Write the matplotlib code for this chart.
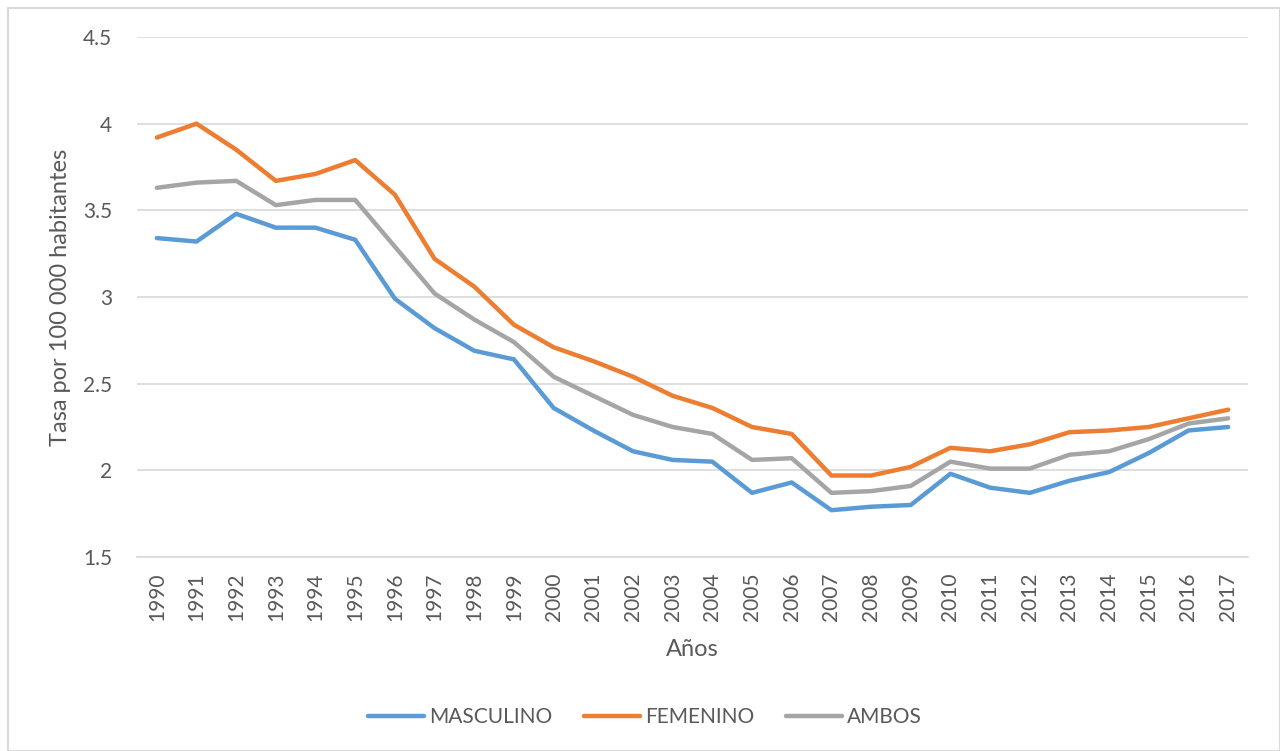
import matplotlib.pyplot as plt
from matplotlib.patches import Rectangle

plt.rcParams['font.family'] = ['Lato', 'DejaVu Sans']

# Data
years = list(range(1990, 2018))
masculino = [3.34, 3.32, 3.48, 3.40, 3.40, 3.33, 2.99, 2.82, 2.69, 2.64,
             2.36, 2.23, 2.11, 2.06, 2.05, 1.87, 1.93, 1.77, 1.79, 1.80,
             1.98, 1.90, 1.87, 1.94, 1.99, 2.10, 2.23, 2.25]
femenino = [3.92, 4.00, 3.85, 3.67, 3.71, 3.79, 3.59, 3.22, 3.06, 2.84,
            2.71, 2.63, 2.54, 2.43, 2.36, 2.25, 2.21, 1.97, 1.97, 2.02,
            2.13, 2.11, 2.15, 2.22, 2.23, 2.25, 2.30, 2.35]
ambos = [3.63, 3.66, 3.67, 3.53, 3.56, 3.56, 3.29, 3.02, 2.87, 2.74,
         2.54, 2.43, 2.32, 2.25, 2.21, 2.06, 2.07, 1.87, 1.88, 1.91,
         2.05, 2.01, 2.01, 2.09, 2.11, 2.18, 2.27, 2.30]
y_ticks = [1.5, 2, 2.5, 3, 3.5, 4, 4.5]

fig = plt.figure(figsize=(12.8, 7.51), dpi=100)
ax = fig.add_axes([137 / 1280, 1 - 557 / 751, (1248 - 137) / 1280, (557 - 37) / 751])

# light border around the whole chart, like an Excel chart area
fig.patches.append(Rectangle((8 / 1280, 0), 1 - 8 / 1280, 1 - 8 / 751,
                             transform=fig.transFigure, fill=False,
                             edgecolor='#D9D9D9', linewidth=1.5))

x = list(range(len(years)))
ax.plot(x, masculino, color='#5B9BD5', lw=3.2, solid_capstyle='round', label='MASCULINO')
ax.plot(x, femenino, color='#ED7D31', lw=3.2, solid_capstyle='round', label='FEMENINO')
ax.plot(x, ambos, color='#A5A5A5', lw=3.2, solid_capstyle='round', label='AMBOS')

ax.set_xlim(-0.5, len(years) - 0.5)
ax.set_ylim(1.5, 4.5)
ax.set_yticks(y_ticks)
ax.set_yticklabels(['1.5', '2', '2.5', '3', '3.5', '4', '4.5'])
ax.set_xticks(x)
ax.set_xticklabels([str(y) for y in years], rotation=90)
ax.grid(axis='y', color='#D9D9D9', lw=1.2)
ax.set_axisbelow(True)
for s in ['top', 'right', 'left']:
    ax.spines[s].set_visible(False)
ax.spines['bottom'].set_color('#D9D9D9')
ax.spines['bottom'].set_linewidth(1.2)
ax.tick_params(axis='x', length=0, colors='#595959', labelsize=15, pad=11)
ax.tick_params(axis='y', length=0, colors='#595959', labelsize=15, pad=18)

ax.set_xlabel('Años', fontsize=17, color='#595959')
ax.set_ylabel('Tasa por 100 000 habitantes', fontsize=17, color='#595959')
ax.xaxis.set_label_coords(0.5, -0.157)
ax.yaxis.set_label_coords(-0.0594, 0.5)

fig.legend(loc='center', bbox_to_anchor=(0.504, 1 - 717 / 751), ncol=3, frameon=False,
           fontsize=15, labelcolor='#595959', handlelength=2.7, columnspacing=1.5,
           handletextpad=0.25)

fig.savefig('out.png', dpi=100)
